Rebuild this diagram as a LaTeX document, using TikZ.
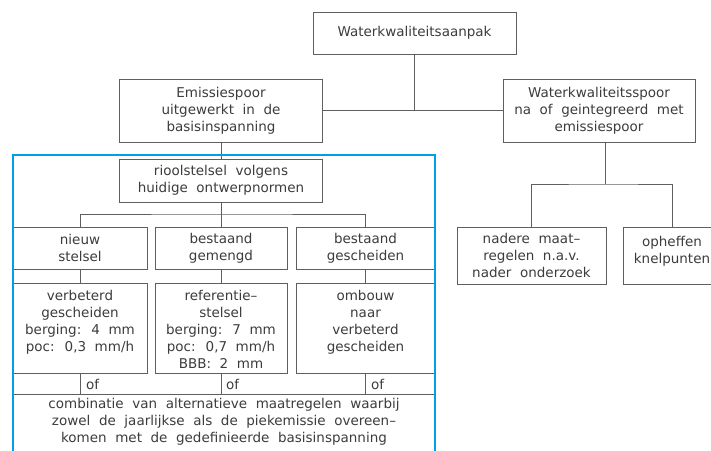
\documentclass[tikz,border=0pt]{standalone}
\usepackage{fontspec}
\setmainfont{DejaVu Sans}[WordSpace=2]
\usetikzlibrary{positioning}

\definecolor{frameblue}{RGB}{0,160,232}
\definecolor{linegray}{RGB}{95,95,95}
\definecolor{textgray}{RGB}{60,60,60}

\begin{document}
\begin{tikzpicture}
[x=1pt, y=-1pt,
box/.style={rectangle, draw=linegray, line width=0.8pt, text=textgray, align=center, inner sep=0pt, font=\fontsize{13.5}{17}\selectfont},
topbox/.style={box, anchor=north},
oflabel/.style={anchor=west, inner sep=0pt, text=textgray, font=\fontsize{13.5}{17}\selectfont},
link/.style={draw=linegray, line width=0.8pt},
]
\useasboundingbox (0,0) rectangle (711,450);
\clip (0,0) rectangle (711,450);

% top of the tree
\node[box, minimum width=203pt, minimum height=42pt] (aanpak) at (414.5,33) {Waterkwaliteitsaanpak};
\node[box, minimum width=203pt, minimum height=63pt] (emissie) at (221,110.5) {Emissiespoor\\uitgewerkt in de\\basisinspanning};
\node[box, minimum width=192pt, minimum height=63pt] (kwaliteit) at (599,110.5) {Waterkwaliteitsspoor\\na of geintegreerd met\\emissiespoor};

% emissiespoor branch
\node[box, minimum width=203pt, minimum height=43pt] (riool) at (221,180.5) {rioolstelsel volgens\\huidige ontwerpnormen};
\node[box, minimum width=134pt, minimum height=42pt] (nieuw) at (80,248) {nieuw\\stelsel};
\node[box, minimum width=132pt, minimum height=42pt] (gemengd) at (221,248) {bestaand\\gemengd};
\node[box, minimum width=139pt, minimum height=42pt] (gescheiden) at (365.5,248) {bestaand\\gescheiden};

% text height counts down to the last line
\node[topbox, minimum width=134pt, text height=68pt, text depth=22pt] (verbeterd) at (80,283) {verbeterd\\gescheiden\\berging: 4 mm\\poc: 0,3 mm/h};
\node[topbox, minimum width=132pt, text height=85pt, text depth=5pt] (referentie) at (221,283) {referentie--\\stelsel\\berging: 7 mm\\poc: 0,7 mm/h\\BBB: 2 mm};
\node[topbox, minimum width=139pt, text height=68pt, text depth=22pt] (ombouw) at (365.5,283) {ombouw\\naar\\verbeterd\\gescheiden};

\node[topbox, minimum width=422pt, text height=48pt, text depth=50pt] (combinatie) at (224,394) {combinatie van alternatieve maatregelen waarbij\\zowel de jaarlijkse als de piekemissie overeen--\\komen met de gedefinieerde basisinspanning};

\node[oflabel] (of1) at (86,384) {of};
\node[oflabel] (of2) at (226,384) {of};
\node[oflabel] (of3) at (371,384) {of};

% waterkwaliteitsspoor branch
\node[box, minimum width=149pt, minimum height=57pt] (nadere) at (531.5,255.5) {nadere maat--\\regelen n.a.v.\\nader onderzoek};
\node[topbox, minimum width=98pt, text height=36pt, text depth=21pt] (opheffen) at (672,227) {opheffen\\knelpunten};

\coordinate (lsplit) at (221,214);
\coordinate (rsplit) at (605,184);

% connectors
\draw[link] (aanpak.south) -- (aanpak.south |- emissie.east);
\draw[link] (emissie.east) -- (kwaliteit.west);
\draw[link] (emissie.south) -- (riool.north);
\draw[link] (riool.south) -- (gemengd.north);
\draw[link] (nieuw.north) |- (lsplit) -| (gescheiden.north);
\draw[link] (nieuw.south) -- (verbeterd.north);
\draw[link] (gemengd.south) -- (referentie.north);
\draw[link] (gescheiden.south) -- (ombouw.north);
\draw[link] (verbeterd.south) -- (verbeterd.south |- combinatie.north);
\draw[link] (referentie.south) -- (referentie.south |- combinatie.north);
\draw[link] (ombouw.south) -- (ombouw.south |- combinatie.north);
\draw[link] ([xshift=6pt]kwaliteit.south) -- (rsplit);
\draw[link] (nadere.north) |- (rsplit) -| (opheffen.north);

% frame round the emissiespoor part
\draw[frameblue, line width=2.5pt] (13,480) |- (435,155) -- (435,480);
\end{tikzpicture}
\end{document}
